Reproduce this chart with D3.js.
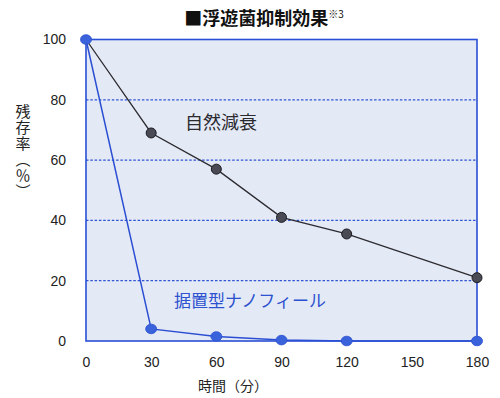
<!DOCTYPE html>
<html>
<head>
<meta charset="utf-8">
<script src="https://d3js.org/d3.v7.min.js"></script>
<style>
  body { margin: 0; background: #fff; }
  svg text { font-family: "Liberation Sans", "Noto Sans CJK JP", sans-serif; }
</style>
</head>
<body>
<div id="canvas"></div>
<script>
// data
var minutes = [0, 30, 60, 90, 120, 180];
var natural = [100, 69, 57, 41, 35.5, 21];      // 自然減衰
var nanofeel = [100, 4, 1.5, 0.3, 0, 0];        // 据置型ナノフィール
var xTicks = [0, 30, 60, 90, 120, 150, 180];
var yTicks = [0, 20, 40, 60, 80, 100];
var gridLines = [20, 40, 60, 80];

var W = 500, H = 398;
var m = {t:39.5, r:23, b:57, l:86};
var w = W - m.l - m.r, h = H - m.t - m.b;

var svg = d3.select('#canvas').append('svg')
    .attr('width', W).attr('height', H);

var x = d3.scaleLinear().domain([0,180]).range([0,w]);
var y = d3.scaleLinear().domain([0,100]).range([h,0]);

// title
var title = svg.append('text')
    .attr('x', 264).attr('y', 25)
    .attr('text-anchor','middle')
    .style('font-family','"Noto Sans CJK JP", sans-serif')
    .style('font-weight','bold')
    .style('font-size','18px')
    .attr('fill','#111');
title.append('tspan').text('■浮遊菌抑制効果');
title.append('tspan').text('※3').attr('dy',-7).style('font-size','10px').style('font-weight','normal');

var plot = svg.append('g').attr('transform','translate('+m.l+','+m.t+')');

plot.append('rect')
    .attr('width', w).attr('height', h)
    .attr('fill','#e4e9f6');

plot.selectAll('.grid').data(gridLines).enter()
    .append('line').attr('class','grid')
    .attr('x1',0).attr('x2',w)
    .attr('y1',function(d){return y(d);}).attr('y2',function(d){return y(d);})
    .attr('stroke','#2f55d4').attr('stroke-width',1.3)
    .attr('stroke-dasharray','2.5,1.8');

plot.append('rect')
    .attr('width', w).attr('height', h)
    .attr('fill','none').attr('stroke','#2a4fd6').attr('stroke-width',1.6);

// axes (text only, no tick marks)
var yAxis = plot.append('g').call(d3.axisLeft(y).tickValues(yTicks).tickSize(0).tickPadding(20));
var xAxis = plot.append('g').attr('transform','translate(0,'+h+')')
    .call(d3.axisBottom(x).tickValues(xTicks).tickSize(0).tickPadding(16));
[yAxis, xAxis].forEach(function(a){
  a.select('.domain').remove();
  a.selectAll('text').style('font-size','14px').attr('fill','#222')
      .style('font-family','"Liberation Sans", sans-serif');
});

// axis titles
svg.append('text')
    .attr('x', 233).attr('y', 391)
    .attr('text-anchor','middle')
    .style('font-family','"Noto Sans CJK JP", sans-serif')
    .style('font-size','14px').attr('fill','#222')
    .text('時間（分）');

svg.append('text')
    .attr('x', 23).attr('y', 104)
    .style('writing-mode','vertical-rl')
    .style('font-family','"Noto Sans CJK JP", sans-serif')
    .style('font-size','15px').attr('fill','#222')
    .style('letter-spacing','1px')
    .text('残存率（％）');

// lines
var line = d3.line()
    .x(function(d){return x(d[0]);})
    .y(function(d){return y(d[1]);});

var natPts = minutes.map(function(t,i){return [t, natural[i]];});
var nanoPts = minutes.map(function(t,i){return [t, nanofeel[i]];});

plot.append('path').datum(natPts)
    .attr('d', line).attr('fill','none')
    .attr('stroke','#2b2b30').attr('stroke-width',1.3);

plot.append('path').datum(nanoPts)
    .attr('d', line).attr('fill','none')
    .attr('stroke','#2b4fd2').attr('stroke-width',1.5);

plot.selectAll('.nat').data(natPts.slice(1)).enter()
    .append('circle').attr('class','nat')
    .attr('cx',function(d){return x(d[0]);})
    .attr('cy',function(d){return y(d[1]);})
    .attr('r',5)
    .attr('fill','#4a4a55').attr('stroke','#1c1c22').attr('stroke-width',1);

plot.selectAll('.nano').data(nanoPts).enter()
    .append('ellipse').attr('class','nano')
    .attr('cx',function(d){return x(d[0]);})
    .attr('cy',function(d){return y(d[1]);})
    .attr('rx',5.5).attr('ry',4.8)
    .attr('fill','#3a63db').attr('stroke','#2a4fd0').attr('stroke-width',0.8);

// series labels
svg.append('text')
    .attr('x', 221).attr('y', 129)
    .attr('text-anchor','middle')
    .style('font-family','"Noto Sans CJK JP", sans-serif')
    .style('font-size','18px').attr('fill','#2a2a2e')
    .text('自然減衰');

svg.append('text')
    .attr('x', 250).attr('y', 307)
    .attr('text-anchor','middle')
    .style('font-family','"Noto Sans CJK JP", sans-serif')
    .style('font-size','17px').attr('fill','#2c52cf')
    .text('据置型ナノフィール');
</script>
</body>
</html>
